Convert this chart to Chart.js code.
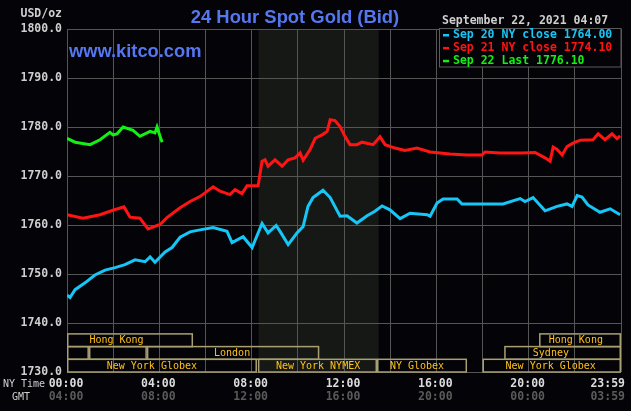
<!DOCTYPE html>
<html lang="en">
<head>
<meta charset="UTF-8">
<title>24 Hour Spot Gold (Bid)</title>
<style>
  html, body { margin: 0; padding: 0; background: #040308; }
  #chart { display: block; }
</style>
</head>
<body>
<canvas id="chart" width="631" height="411"></canvas>
<script src="https://cdn.jsdelivr.net/npm/chart.js"></script>
<script>
// time axis is hours since 00:00 New York time
const sep20Hours = [0, 0.13, 0.35, 0.78, 1.21, 1.65, 2.08, 2.51, 2.95, 3.38, 3.6, 3.81, 4.25, 4.55, 4.9, 5.33, 5.76, 6.33, 6.93, 7.15, 7.63, 8.02, 8.45, 8.71, 9.06, 9.23, 9.58, 9.97, 10.23, 10.44, 10.66, 11.09, 11.4, 11.83, 12.13, 12.56, 13.0, 13.34, 13.65, 13.99, 14.43, 14.86, 15.6, 15.73, 16.03, 16.29, 16.9, 17.11, 18.02, 18.89, 19.63, 19.84, 20.19, 20.71, 21.23, 21.66, 21.88, 22.1, 22.31, 22.57, 23.09, 23.53, 23.96];
const sep20Prices = [1745.7, 1745.2, 1746.8, 1748.2, 1749.8, 1750.8, 1751.3, 1751.9, 1752.9, 1752.5, 1753.5, 1752.4, 1754.5, 1755.4, 1757.5, 1758.6, 1759.0, 1759.5, 1758.7, 1756.4, 1757.6, 1755.4, 1760.3, 1758.4, 1759.9, 1758.7, 1756.0, 1758.4, 1759.7, 1763.8, 1765.6, 1767.1, 1765.6, 1761.8, 1761.9, 1760.4, 1761.9, 1762.8, 1763.9, 1763.1, 1761.3, 1762.4, 1762.1, 1761.8, 1764.5, 1765.3, 1765.3, 1764.3, 1764.3, 1764.3, 1765.4, 1764.8, 1765.6, 1762.9, 1763.8, 1764.3, 1763.8, 1766.0, 1765.7, 1764.1, 1762.6, 1763.3, 1762.1];

const sep21Hours = [0, 0.69, 1.43, 1.99, 2.47, 2.73, 3.16, 3.51, 4.03, 4.33, 4.9, 5.33, 5.76, 6.33, 6.63, 7.06, 7.28, 7.58, 7.8, 8.28, 8.45, 8.58, 8.71, 9.01, 9.32, 9.58, 9.88, 10.1, 10.23, 10.53, 10.75, 11.05, 11.27, 11.4, 11.61, 11.83, 12.04, 12.26, 12.56, 12.78, 13.26, 13.56, 13.78, 14.21, 14.64, 15.16, 15.73, 16.59, 17.33, 17.98, 18.11, 18.76, 19.71, 20.28, 20.71, 20.93, 21.06, 21.23, 21.45, 21.66, 21.92, 22.23, 22.79, 23.01, 23.31, 23.61, 23.83, 23.96];
const sep21Prices = [1762.1, 1761.4, 1762.1, 1763.0, 1763.7, 1761.6, 1761.4, 1759.2, 1760.1, 1761.5, 1763.5, 1764.8, 1765.8, 1767.8, 1766.9, 1766.2, 1767.2, 1766.4, 1768.0, 1768.0, 1773.0, 1773.3, 1772.0, 1773.3, 1772.0, 1773.3, 1773.7, 1774.7, 1773.2, 1775.4, 1777.7, 1778.4, 1779.1, 1781.5, 1781.3, 1780.1, 1778.1, 1776.4, 1776.4, 1776.9, 1776.4, 1778.0, 1776.4, 1775.7, 1775.2, 1775.7, 1774.9, 1774.5, 1774.3, 1774.3, 1774.9, 1774.7, 1774.7, 1774.8, 1773.7, 1773.0, 1775.9, 1775.4, 1774.3, 1776.0, 1776.7, 1777.3, 1777.4, 1778.6, 1777.4, 1778.6, 1777.6, 1778.2];

const sep22Hours = [0, 0.35, 1.0, 1.43, 1.86, 1.99, 2.17, 2.43, 2.86, 3.16, 3.6, 3.81, 3.9, 4.03, 4.12];
const sep22Prices = [1777.7, 1776.9, 1776.4, 1777.4, 1778.9, 1778.4, 1778.6, 1780.0, 1779.3, 1778.1, 1779.1, 1778.8, 1780.0, 1778.1, 1776.9];

const seriesNames = ['Sep 20 NY close 1764.00', 'Sep 21 NY close 1774.10', 'Sep 22 Last 1776.10'];
const seriesColors = ['#16c6f6', '#ff1414', '#14f014'];

const priceTicks = [1730, 1740, 1750, 1760, 1770, 1780, 1790, 1800];
const gridHours = [0, 2, 4, 6, 8, 10, 12, 14, 16, 18, 20, 22, 24];
const labelHours = [0, 4, 8, 12, 16, 20, 24];
const nyTimeLabels = ['00:00', '04:00', '08:00', '12:00', '16:00', '20:00', '23:59'];
const gmtLabels = ['04:00', '08:00', '12:00', '16:00', '20:00', '00:00', '03:59'];

const nymexHours = [8.3, 13.5];

// market sessions: row 0 is the top strip
const sessions = [
  { name: 'Hong Kong', row: 0, from: 0, to: 5.46, textAt: 0.97 },
  { name: '', row: 1, from: 0, to: 0.95, textAt: 0 },
  { name: '', row: 1, from: 0.95, to: 3.46, textAt: 0 },
  { name: 'London', row: 1, from: 3.46, to: 10.93, textAt: 6.37 },
  { name: 'New York Globex', row: 2, from: 0, to: 8.23, textAt: 1.72 },
  { name: 'New York NYMEX', row: 2, from: 8.27, to: 13.43, textAt: 9.05 },
  { name: 'NY Globex', row: 2, from: 13.43, to: 17.33, textAt: 13.99 },
  { name: 'New York Globex', row: 2, from: 18.0, to: 24, textAt: 19.0 },
  { name: 'Sydney', row: 1, from: 18.94, to: 24, textAt: 20.18 },
  { name: 'Hong Kong', row: 0, from: 20.45, to: 24, textAt: 20.87 }
];

const MONO = '"DejaVu Sans Mono", monospace';
const SANS = '"Liberation Sans", Arial, sans-serif';

const toPoints = (hours, prices) => hours.map((h, i) => ({ x: h, y: prices[i] }));

const frame = {
  id: 'kitcoFrame',
  beforeDraw(chart) {
    const { ctx, chartArea: a, scales: { x } } = chart;
    ctx.save();
    ctx.fillStyle = '#040308';
    ctx.fillRect(0, 0, chart.width, chart.height);
    const s0 = x.getPixelForValue(nymexHours[0]);
    const s1 = x.getPixelForValue(nymexHours[1]);
    ctx.fillStyle = '#161816';
    ctx.fillRect(s0, a.top, s1 - s0, a.bottom - a.top);
    ctx.restore();
  },
  afterDraw(chart) {
    const { ctx, chartArea: a, scales: { x } } = chart;
    ctx.save();

    // title + site
    ctx.fillStyle = '#5577f0';
    ctx.textBaseline = 'alphabetic';
    ctx.textAlign = 'center';
    ctx.font = 'bold 18.4px ' + SANS;
    ctx.fillText('24 Hour Spot Gold (Bid)', 295, 23);
    ctx.textAlign = 'left';
    ctx.font = 'bold 18.3px ' + SANS;
    ctx.fillText('www.kitco.com', 69, 57);

    // unit
    ctx.fillStyle = '#cfcfcf';
    ctx.textAlign = 'right';
    ctx.textBaseline = 'middle';
    ctx.font = 'bold 11.5px ' + MONO;
    ctx.fillText('USD/oz', 62, 14);

    // session strips
    const rowH = 12.7;
    ctx.lineWidth = 1.5;
    ctx.strokeStyle = '#a8a070';
    ctx.font = '10px ' + MONO;
    ctx.fillStyle = '#ffc21a';
    ctx.textAlign = 'left';
    sessions.forEach(s => {
      const x0 = x.getPixelForValue(s.from);
      const x1 = x.getPixelForValue(s.to);
      const top = a.bottom - rowH * (3 - s.row);
      ctx.strokeRect(x0 + 0.75, top, x1 - x0 - 1.5, rowH);
      if (s.name) ctx.fillText(s.name, x.getPixelForValue(s.textAt), top + rowH / 2 + 0.5);
    });

    // time labels
    ctx.font = '10px ' + MONO;
    ctx.fillStyle = '#cfcfcf';
    ctx.textAlign = 'left';
    ctx.fillText('NY Time', 3, 384);
    ctx.fillText('GMT', 12, 397);
    ctx.font = 'bold 11.5px ' + MONO;
    labelHours.forEach((h, i) => {
      const last = i === labelHours.length - 1;
      const px = last ? x.getPixelForValue(h) + 4 : x.getPixelForValue(h) - 1;
      ctx.textAlign = last ? 'right' : 'center';
      ctx.fillStyle = '#dcdcdc';
      ctx.fillText(nyTimeLabels[i], px, 384);
      ctx.fillStyle = '#5a5a5a';
      ctx.fillText(gmtLabels[i], px, 397);
    });

    // legend box
    ctx.fillStyle = '#040308';
    ctx.fillRect(439, 28, 182, 39);
    ctx.strokeStyle = '#5a5a5a';
    ctx.lineWidth = 1;
    ctx.strokeRect(439.5, 28.5, 181.5, 38.5);
    ctx.textAlign = 'left';
    ctx.fillStyle = '#cfcfcf';
    ctx.font = 'bold 11.5px ' + MONO;
    ctx.fillText('September 22, 2021 04:07', 442, 21);
    seriesNames.forEach((name, i) => {
      const y = 35 + i * 12.9;
      ctx.fillStyle = seriesColors[i];
      ctx.fillRect(443, y - 1, 6, 2.5);
      ctx.fillText(name, 453, y);
    });

    ctx.restore();
  }
};

const lineSet = (hours, prices, color) => ({
  data: toPoints(hours, prices),
  borderColor: color,
  borderWidth: 3,
  pointRadius: 0,
  tension: 0,
  fill: false
});

new Chart(document.getElementById('chart'), {
  type: 'line',
  data: {
    datasets: [
      lineSet(sep20Hours, sep20Prices, seriesColors[0]),
      lineSet(sep21Hours, sep21Prices, seriesColors[1]),
      lineSet(sep22Hours, sep22Prices, seriesColors[2])
    ]
  },
  options: {
    responsive: false,
    animation: false,
    layout: { padding: { left: 0, top: 29, right: 10, bottom: 39 } },
    plugins: { legend: { display: false }, tooltip: { enabled: false } },
    scales: {
      x: {
        type: 'linear',
        min: 0,
        max: 24,
        afterFit(s) { s.height = 0; },
        afterBuildTicks(s) { s.ticks = gridHours.map(v => ({ value: v })); },
        grid: { color: '#555555', lineWidth: 1, drawTicks: false },
        border: { display: false },
        ticks: { display: false }
      },
      y: {
        min: 1730,
        max: 1800,
        afterFit(s) { s.width = 67; },
        afterBuildTicks(s) { s.ticks = priceTicks.map(v => ({ value: v })); },
        grid: { color: '#555555', lineWidth: 1, drawTicks: false },
        border: { display: false },
        ticks: {
          color: '#cfcfcf',
          padding: 5,
          font: { family: MONO, size: 11.5, weight: 'bold' },
          callback: v => v.toFixed(1)
        }
      }
    }
  },
  plugins: [frame]
});
</script>
</body>
</html>
